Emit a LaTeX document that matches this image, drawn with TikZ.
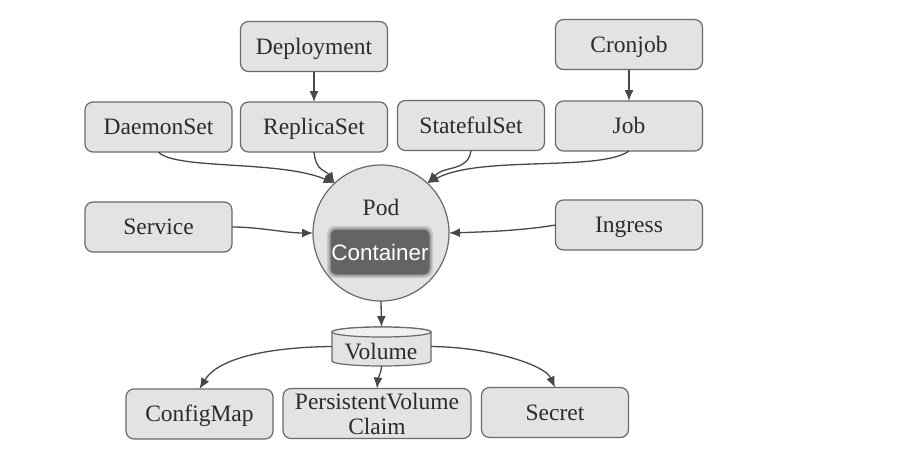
\documentclass[tikz,border=0pt]{standalone}
\usepackage{fontspec}
\setmainfont{Liberation Serif}
\newfontfamily\contfont{Liberation Sans}
\usetikzlibrary{arrows.meta,shapes.geometric}
\definecolor{boxfill}{HTML}{E3E3E3}
\definecolor{boxline}{HTML}{6A6A6A}
\definecolor{ink}{HTML}{2B2B2B}
\definecolor{wire}{HTML}{484848}
\definecolor{contfill}{HTML}{646464}
\tikzset{
  x=1pt,y=-1pt,
  every node/.style={font=\fontsize{23.5}{23}\selectfont,text=ink,inner sep=0pt,outer sep=0pt},
  label text/.style={text height=15.5pt,text depth=0pt},
  res/.style={draw=boxline,fill=boxfill,line width=1.2pt,rounded corners=8pt,minimum width=147pt,minimum height=50pt,align=center},
  onetext/.style={res,label text},
  wider/.style={res,minimum width=188pt},
  link/.style={draw=wire,line width=1.3pt,-{Latex[length=11pt,width=9pt]}},
  halo/.style={fill=contfill,rounded corners=8pt},
  drum/.style={draw=boxline,line width=1.2pt},
}
\begin{document}
\begin{tikzpicture}
\useasboundingbox (0,0) rectangle (907,460);
\fill[white] (0,0) rectangle (907,460);
% resources
\node[onetext] (deploy) at (314,46.5) {Deployment};
\node[onetext] (cron) at (629,44.5) {Cronjob};
\node[onetext] (daemon) at (158.5,127) {DaemonSet};
\node[onetext] (replica) at (314,127) {ReplicaSet};
\node[onetext] (stateful) at (471,125.5) {StatefulSet};
\node[onetext] (job) at (629,126) {Job};
\node[onetext] (service) at (158.5,227) {Service};
\node[onetext] (ingress) at (629,225) {Ingress};
\node[onetext] (config) at (199.5,414) {ConfigMap};
\node[wider] (pvc) at (377,413.5) {\rule{0pt}{17.5pt}PersistentVolume\\[2.5pt]Claim};
\node[onetext] (secret) at (555,412.5) {Secret};
% pod
\node[circle,draw=boxline,fill=boxfill,line width=1.2pt,minimum size=136pt] (pod) at (381,233) {};
\node[label text] (podlabel) at (381,207.5) {Pod};
\fill[halo,opacity=0.22] (327,226) rectangle (433,278);
\fill[halo,opacity=0.35] (328.5,227.5) rectangle (431.5,276.5);
\node[fill=contfill,rounded corners=6pt,minimum width=99pt,minimum height=45pt,text=white,font=\contfont\fontsize{22.4}{24}\selectfont] (container) at (380,252) {Container};
% volume
\node[minimum width=99pt,minimum height=39pt] (volume) at (381.5,346.5) {};
\path[drum,fill=boxfill] ([yshift=-5pt]volume.north west) -- ([yshift=5pt]volume.south west)
  arc[start angle=180,end angle=360,x radius=49.5pt,y radius=5pt]
  -- ([yshift=-5pt]volume.north east)
  arc[start angle=0,end angle=180,x radius=49.5pt,y radius=5pt] -- cycle;
\path[drum,fill=boxfill!55!white] ([yshift=-5pt]volume.north) ellipse[x radius=49.5pt,y radius=5pt];
\node[label text] (vollabel) at (381,351.5) {Volume};
% connectors
\draw[link] (deploy.south) -- (replica.north);
\draw[link] (cron.south) -- (job.north);
\draw[link] (daemon.south) .. controls (175,170) and (280,160) .. (pod.133);
\draw[link] (replica.south) .. controls (316,172) and (326,170) .. (pod.133);
\draw[link] (stateful.south) .. controls (468,172) and (445,165) .. (pod.47);
\draw[link] (job.south) .. controls (600,172) and (480,155) .. (pod.47);
\draw[link] (service.east) .. controls (260,227) and (285,233) .. (pod.west);
\draw[link] (ingress.west) .. controls (520,231) and (480,232) .. (pod.east);
\draw[link] (pod.south) -- (volume.north);
\draw[link] (volume.west) .. controls (280,347) and (220,355) .. (config.north);
\draw[link] (volume.south) .. controls (381,374) and (378,378) .. (pvc.north);
\draw[link] (volume.east) .. controls (490,347) and (545,365) .. (secret.north);
\end{tikzpicture}
\end{document}
